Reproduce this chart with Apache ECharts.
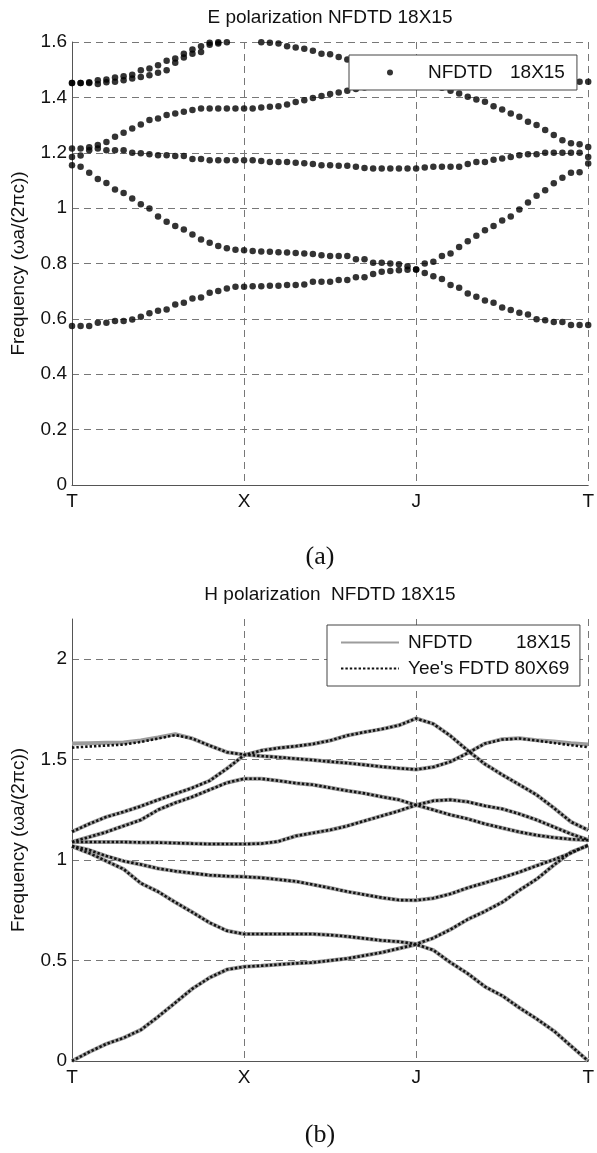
<!DOCTYPE html>
<html>
<head>
<meta charset="utf-8">
<script src="https://cdn.jsdelivr.net/npm/echarts@6/dist/echarts.min.js"></script>
<style>
  html, body { margin: 0; padding: 0; background: #fff; }
  #chart { width: 597px; height: 1153px; }
</style>
</head>
<body>
<div id="chart"></div>
<script>
// k-path tick labels (T - X - J - T), 20 steps per segment
const xTickLabels = ['T', 'X', 'J', 'T'];

// E polarization, NFDTD 18X15 (one value per k step, 61 per band)
const eBand1 = [0.574,0.574,0.574,0.586,0.586,0.592,0.592,0.598,0.608,0.620,0.629,0.634,0.652,0.658,0.674,0.677,0.694,0.701,0.710,0.716,0.716,
  0.718,0.718,0.720,0.720,0.722,0.722,0.724,0.734,0.734,0.734,0.740,0.740,0.750,0.750,0.762,0.770,0.773,0.776,0.777,0.778,
  0.766,0.754,0.744,0.722,0.712,0.692,0.680,0.666,0.658,0.641,0.632,0.622,0.616,0.599,0.595,0.589,0.589,0.578,0.578,0.578];
const eBand2 = [1.155,1.149,1.128,1.105,1.091,1.067,1.055,1.035,1.014,0.999,0.970,0.951,0.935,0.923,0.905,0.887,0.875,0.863,0.855,0.850,0.848,
  0.845,0.843,0.842,0.841,0.840,0.838,0.836,0.834,0.830,0.827,0.827,0.827,0.815,0.815,0.803,0.803,0.800,0.797,0.790,0.778,
  0.800,0.806,0.827,0.836,0.860,0.880,0.900,0.920,0.935,0.955,0.970,0.995,1.020,1.045,1.065,1.090,1.110,1.128,1.130,1.161];
const eBand3 = [1.185,1.190,1.209,1.215,1.209,1.209,1.209,1.200,1.198,1.195,1.191,1.191,1.188,1.188,1.177,1.177,1.173,1.173,1.173,1.173,1.173,
  1.173,1.170,1.167,1.167,1.167,1.164,1.162,1.159,1.155,1.155,1.153,1.153,1.149,1.145,1.143,1.143,1.143,1.143,1.143,1.143,
  1.147,1.149,1.149,1.149,1.149,1.159,1.167,1.167,1.175,1.179,1.185,1.191,1.195,1.195,1.200,1.200,1.200,1.200,1.200,1.185];
const eBand4 = [1.215,1.215,1.220,1.228,1.239,1.258,1.272,1.288,1.302,1.318,1.324,1.336,1.342,1.348,1.354,1.360,1.360,1.360,1.360,1.360,1.360,
  1.360,1.363,1.366,1.368,1.374,1.383,1.390,1.398,1.405,1.412,1.418,1.424,1.430,1.436,1.442,1.448,1.453,1.457,1.460,1.462,
  1.455,1.445,1.435,1.424,1.414,1.402,1.392,1.384,1.368,1.356,1.342,1.330,1.312,1.300,1.282,1.264,1.245,1.234,1.231,1.221];
const eBand5 = [1.452,1.452,1.452,1.448,1.455,1.456,1.462,1.468,1.474,1.480,1.489,1.498,1.525,1.544,1.558,1.564,1.590,1.595,1.599,1.615,1.625,
  1.610,1.599,1.597,1.595,1.585,1.580,1.576,1.568,1.558,1.556,1.546,1.537,1.530,1.522,1.515,1.508,1.502,1.497,1.493,1.490,
  1.487,1.484,1.480,1.477,1.474,1.470,1.468,1.466,1.464,1.462,1.461,1.460,1.459,1.458,1.457,1.457,1.456,1.456,1.456,1.456];
// upper partner of band 5, leaves the frame before X
const eBand6 = [1.452,1.452,1.455,1.462,1.465,1.472,1.476,1.482,1.498,1.504,1.516,1.532,1.540,1.558,1.573,1.585,1.597,1.599];

// H polarization, sampled every 2nd k step (31 per band)
const hBandA_nf  = [1.580,1.582,1.584,1.585,1.595,1.610,1.627,1.605,1.570,1.537,1.525,
  1.518,1.512,1.505,1.498,1.490,1.483,1.474,1.465,1.457,1.451,
  1.463,1.490,1.533,1.580,1.602,1.607,1.597,1.590,1.582,1.575];
const hBandA_yee = [1.560,1.565,1.570,1.575,1.588,1.605,1.622,1.605,1.570,1.537,1.525,
  1.518,1.512,1.505,1.498,1.490,1.483,1.474,1.465,1.457,1.451,
  1.463,1.490,1.533,1.580,1.600,1.605,1.595,1.583,1.572,1.562];
const hBandB = [1.141,1.180,1.215,1.240,1.268,1.300,1.330,1.360,1.395,1.455,1.522,
  1.545,1.558,1.567,1.578,1.595,1.620,1.637,1.652,1.671,1.705,
  1.678,1.618,1.545,1.478,1.425,1.375,1.325,1.260,1.190,1.149];
const hBandC = [1.090,1.115,1.140,1.170,1.200,1.250,1.285,1.315,1.350,1.385,1.405,
  1.405,1.395,1.383,1.375,1.360,1.345,1.332,1.315,1.300,1.274,
  1.250,1.225,1.205,1.180,1.160,1.140,1.124,1.112,1.104,1.099];
const hBandD = [1.090,1.090,1.090,1.090,1.088,1.087,1.085,1.082,1.080,1.080,1.080,
  1.082,1.093,1.120,1.135,1.150,1.170,1.195,1.220,1.245,1.274,
  1.295,1.300,1.290,1.270,1.255,1.230,1.200,1.165,1.130,1.100];
const hBandE = [1.070,1.050,1.020,0.995,0.978,0.958,0.945,0.935,0.925,0.920,0.917,
  0.912,0.903,0.894,0.878,0.861,0.843,0.828,0.813,0.801,0.800,
  0.810,0.832,0.862,0.887,0.913,0.940,0.972,1.002,1.035,1.075];
const hBandF = [1.068,1.035,0.995,0.955,0.885,0.843,0.790,0.740,0.688,0.648,0.632,
  0.632,0.632,0.632,0.632,0.627,0.620,0.610,0.600,0.594,0.582,
  0.612,0.655,0.705,0.745,0.790,0.850,0.905,0.975,1.040,1.072];
const hBandG = [0.000,0.045,0.085,0.115,0.155,0.220,0.290,0.360,0.415,0.455,0.469,
  0.474,0.480,0.486,0.490,0.500,0.510,0.525,0.540,0.560,0.580,
  0.552,0.490,0.435,0.370,0.325,0.265,0.210,0.150,0.075,0.000];

const FONT = "'Liberation Sans', Arial, sans-serif";
const nfName = 'NFDTD';
const yeeName = "Yee's FDTD";

const eStep = 1;   // k step of E data
const hStep = 2;   // k step of H data

function toPoints(arr, step) {
  const pts = [];
  arr.forEach((v, i) => {
    if (v !== null && v !== undefined) pts.push([i * step, v]);
  });
  return pts;
}

const ePoints = [eBand1, eBand2, eBand3, eBand4, eBand5, eBand6]
  .reduce((acc, b) => acc.concat(toPoints(b, eStep)), []);

const chart = echarts.init(document.getElementById('chart'), null, { renderer: 'canvas' });

function xAxisCfg(gridIndex) {
  return {
    type: 'value', gridIndex: gridIndex, min: 0, max: 60, interval: 20,
    axisLine: { show: true, onZero: false, lineStyle: { color: '#555', width: 1 } },
    axisTick: { show: false },
    axisLabel: {
      color: '#111', fontSize: 19, fontFamily: FONT, margin: 7,
      formatter: (v) => xTickLabels[Math.round(v / 20)]
    },
    splitLine: { show: true, lineStyle: { color: '#777', type: [7, 5], width: 1 } }
  };
}

function yAxisCfg(gridIndex, max, interval, topLine) {
  return {
    type: 'value', gridIndex: gridIndex, min: 0, max: max, interval: interval,
    name: 'Frequency (ωa/(2πc))',
    nameLocation: 'middle', nameGap: 44, nameRotate: 90,
    nameTextStyle: { color: '#111', fontSize: 19, fontFamily: FONT },
    axisLine: { show: true, lineStyle: { color: '#555', width: 1 } },
    axisTick: { show: false },
    axisLabel: {
      color: '#111', fontSize: 19, fontFamily: FONT, margin: 5,
      // the frame top (2.2) is not a tick in the H panel
      formatter: (v) => (Math.abs(v / interval - Math.round(v / interval)) > 1e-6 ? '' : String(+v.toFixed(2)))
    },
    splitLine: { show: true, showMaxLine: topLine, lineStyle: { color: '#777', type: [7, 5], width: 1 } }
  };
}

const hBands = [
  [hBandA_nf, hBandA_yee], [hBandB, hBandB], [hBandC, hBandC], [hBandD, hBandD],
  [hBandE, hBandE], [hBandF, hBandF], [hBandG, hBandG]
];

const hSeries = [];
hBands.forEach((pair) => {
  hSeries.push({
    name: nfName, type: 'line', xAxisIndex: 1, yAxisIndex: 1,
    data: toPoints(pair[0], hStep), showSymbol: false, symbol: 'none',
    lineStyle: { color: '#9c9c9c', width: 4 }, itemStyle: { color: '#9c9c9c' }, z: 2
  });
});
hBands.forEach((pair) => {
  hSeries.push({
    name: yeeName, type: 'line', xAxisIndex: 1, yAxisIndex: 1,
    data: toPoints(pair[1], hStep), showSymbol: false, symbol: 'none',
    lineStyle: { color: '#111', width: 2.6, type: [2.4, 2] }, itemStyle: { color: '#111' }, z: 3
  });
});

chart.setOption({
  animation: false,
  backgroundColor: '#fff',
  graphic: [
    { type: 'text', x: 330, y: 18, style: { text: 'E polarization NFDTD 18X15', font: '19px ' + FONT, fill: '#111', textAlign: 'center', textVerticalAlign: 'middle' } },
    { type: 'text', x: 330, y: 595, style: { text: 'H polarization  NFDTD 18X15', font: '19px ' + FONT, fill: '#111', textAlign: 'center', textVerticalAlign: 'middle' } },
    { type: 'text', x: 320, y: 557, style: { text: '(a)', font: "26px 'Liberation Serif', 'Times New Roman', serif", fill: '#111', textAlign: 'center', textVerticalAlign: 'middle' } },
    { type: 'text', x: 320, y: 1135, style: { text: '(b)', font: "26px 'Liberation Serif', 'Times New Roman', serif", fill: '#111', textAlign: 'center', textVerticalAlign: 'middle' } }
  ],
  grid: [
    { left: 72, top: 42, width: 517, height: 443 },
    { left: 72, top: 619, width: 517, height: 442 }
  ],
  xAxis: [xAxisCfg(0), xAxisCfg(1)],
  yAxis: [yAxisCfg(0, 1.6, 0.2, true), yAxisCfg(1, 2.2, 0.5, false)],
  legend: [
    {
      data: ['NFDTD   18X15'], left: 349, top: 55, orient: 'vertical',
      selectedMode: false, icon: 'circle', itemWidth: 6, itemHeight: 6,
      padding: [8, 12, 8, 38], backgroundColor: '#fff', borderColor: '#444', borderWidth: 1,
      borderRadius: 0,
      textStyle: { color: '#111', fontSize: 19, fontFamily: FONT, padding: [0, 0, 0, 30],
        rich: { a: { width: 82, fontSize: 19, fontFamily: FONT, color: '#111' }, b: { fontSize: 19, fontFamily: FONT, color: '#111' } } },
      formatter: () => '{a|NFDTD}{b|18X15}'
    },
    {
      data: [nfName, yeeName], left: 327, top: 625, orient: 'vertical',
      selectedMode: false, itemWidth: 58, itemHeight: 10, itemGap: 7,
      padding: [8, 9, 8, 13], backgroundColor: '#fff', borderColor: '#444', borderWidth: 1,
      borderRadius: 0,
      itemStyle: { opacity: 0 },
      textStyle: { color: '#111', fontSize: 19, fontFamily: FONT, padding: [0, 0, 0, 4],
        rich: { a: { width: 108, fontSize: 19, fontFamily: FONT, color: '#111' }, b: { fontSize: 19, fontFamily: FONT, color: '#111' } } },
      formatter: (name) => (name === nfName ? '{a|NFDTD}{b|18X15}' : "{b|Yee's FDTD 80X69}")
    }
  ],
  series: [
    {
      name: 'NFDTD   18X15', type: 'scatter', xAxisIndex: 0, yAxisIndex: 0,
      data: ePoints, symbol: 'circle', symbolSize: 6.5, clip: true,
      itemStyle: { color: '#000' }, z: 2
    }
  ].concat(hSeries)
});
</script>
</body>
</html>
